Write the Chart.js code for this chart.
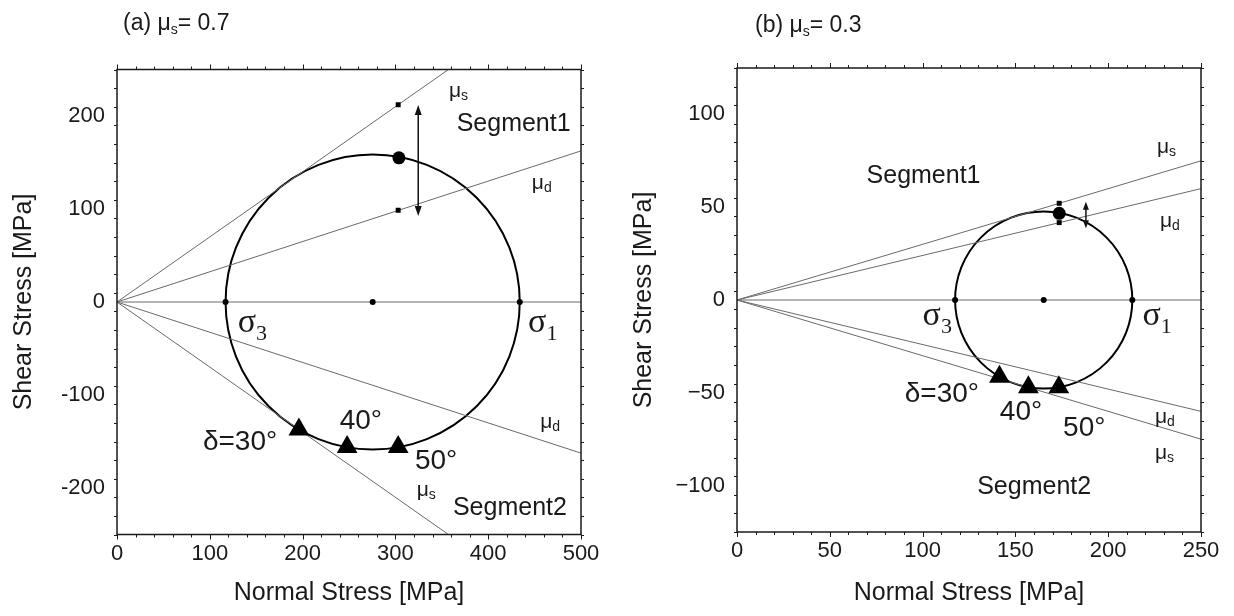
<!DOCTYPE html>
<html><head><meta charset="utf-8">
<script src="https://cdn.jsdelivr.net/npm/chart.js@4.4.1/dist/chart.umd.min.js"></script>
<style>
html,body{margin:0;padding:0;background:#fff;}
body{width:1234px;height:616px;overflow:hidden;position:relative;}
.box{position:absolute;top:0;width:617px;height:616px;}
</style></head><body>
<div class="box" style="left:0"><canvas id="ca" width="617" height="616"></canvas></div>
<div class="box" style="left:617px"><canvas id="cb" width="617" height="616"></canvas></div>
<script>
// ---------- Panel (a): mu_s = 0.7 ----------
const xRangeA = [0, 500];
const yRangeA = [-250, 250];
const xTicksA = [0, 100, 200, 300, 400, 500];
const xTickLabelsA = ['0', '100', '200', '300', '400', '500'];
const yTicksA = [-200, -100, 0, 100, 200];
const yTickLabelsA = ['-200', '-100', '0', '100', '200'];
const principalA = [117, 434];            // sigma3, sigma1
const frictionA = [0.7, 0.325];           // mu_s, mu_d
const triXA = [196, 248, 303];            // delta = 30, 40, 50
const triYA = [-137, -156, -156];
const stateXA = [303.8];
const stateYA = [155];
const squareXA = [303, 303];
const squareYA = [212, 98.6];
const arrowA = [324.6, 211.8, 92.5];      // x, y from, y to
const labelTextA = ['μs', 'Segment1', 'μd', 'σ3', 'σ1', 'δ=30°', '40°', '50°', 'μs', 'Segment2', 'μd'];
const labelXA = [357.7, 366, 447, 130, 443, 92.6, 240, 321, 323, 362, 456];
const labelYA = [226.9, 191, 128, -24.7, -24.7, -150.5, -128, -171, -202, -221.5, -129];

// ---------- Panel (b): mu_s = 0.3 ----------
const xRangeB = [0, 250];
const yRangeB = [-125, 125];
const xTicksB = [0, 50, 100, 150, 200, 250];
const xTickLabelsB = ['0', '50', '100', '150', '200', '250'];
const yTicksB = [-100, -50, 0, 50, 100];
const yTickLabelsB = ['\u2212100', '\u221250', '0', '50', '100'];
const principalB = [117.5, 213];
const frictionB = [0.3, 0.24];
const triXB = [141.4, 157, 173.4];
const triYB = [-41.3, -47, -47];
const stateXB = [173.6];
const stateYB = [46.7];
const squareXB = [173.6, 173.6];
const squareYB = [52.1, 41.7];
const arrowB = [188, 53, 38.6];
const labelTextB = ['Segment1', 'μs', 'μd', 'σ3', 'σ1', 'δ=30°', '40°', '50°', 'μd', 'μs', 'Segment2'];
const labelXB = [69.8, 226.3, 227.9, 100, 218.5, 90.4, 141.6, 175.7, 225.2, 225.2, 129.4];
const labelYB = [66.5, 82.5, 42.6, -9.7, -9.7, -50.7, -60.6, -69, -63, -82.5, -100.8];

const SANS = '"Liberation Sans", Arial, Helvetica, sans-serif';
const SERIF = '"Liberation Serif", "Times New Roman", serif';

function labelParts(t) {
  if (t[0] === 'μ') return [{t: 'μ', f: '21px ' + SANS, dy: 0}, {t: t.slice(1), f: '14px ' + SANS, dy: 5}];
  if (t[0] === 'σ') return [{t: 'σ', f: '34px ' + SERIF, dy: -2}, {t: t.slice(1), f: '22px ' + SERIF, dy: 9}];
  if (t.startsWith('Segment')) return [{t: t, f: '25px ' + SANS, dy: 0}];
  return [{t: t, f: '28px ' + SANS, dy: 0}];
}
function drawParts(ctx, x, y, parts, color) {
  ctx.fillStyle = color;
  ctx.textBaseline = 'middle';
  ctx.textAlign = 'left';
  let cx = x;
  for (const p of parts) {
    ctx.font = p.f;
    ctx.fillText(p.t, cx, y + p.dy);
    cx += ctx.measureText(p.t).width;
  }
}

function makeChart(id, P) {
  const xmax = P.xRange[1];
  const [s3, s1] = P.principal;
  const centre = (s3 + s1) / 2;
  const lineDs = (pts) => ({data: pts, showLine: true, borderColor: '#6a6a6a', borderWidth: 1, pointRadius: 0, clip: 0, order: 5});
  const datasets = [
    lineDs([{x: 0, y: 0}, {x: xmax, y: 0}]),
    lineDs([{x: 0, y: 0}, {x: xmax, y: P.friction[0] * xmax}]),
    lineDs([{x: 0, y: 0}, {x: xmax, y: P.friction[1] * xmax}]),
    lineDs([{x: 0, y: 0}, {x: xmax, y: -P.friction[0] * xmax}]),
    lineDs([{x: 0, y: 0}, {x: xmax, y: -P.friction[1] * xmax}]),
    {data: [{x: s3, y: 0}, {x: s1, y: 0}, {x: centre, y: 0}], pointRadius: 3, pointBackgroundColor: '#000', pointBorderWidth: 0, order: 1},
    {data: P.squareX.map((v, i) => ({x: v, y: P.squareY[i]})), pointStyle: 'rect', pointRadius: 3.5, pointBackgroundColor: '#000', pointBorderWidth: 0, order: 1},
    {data: P.stateX.map((v, i) => ({x: v, y: P.stateY[i]})), pointRadius: 6.5, pointBackgroundColor: '#000', pointBorderWidth: 0, order: 1},
    {data: P.triX.map((v, i) => ({x: v, y: P.triY[i]})), pointStyle: 'triangle', pointRadius: 12, pointBackgroundColor: '#000', pointBorderWidth: 0, order: 1}
  ];

  const deco = {
    id: 'deco',
    beforeDatasetsDraw(chart) {
      const {ctx, scales: {x, y}} = chart;
      ctx.save();
      ctx.strokeStyle = '#000';
      ctx.lineWidth = 2;
      const cx = x.getPixelForValue(centre), cy = y.getPixelForValue(0);
      const rx = x.getPixelForValue(s1) - cx;
      const ry = cy - y.getPixelForValue((s1 - s3) / 2);
      ctx.beginPath();
      ctx.ellipse(cx, cy, rx, ry, 0, 0, Math.PI * 2);
      ctx.stroke();
      ctx.restore();
    },
    afterDatasetsDraw(chart) {
      const {ctx, scales: {x, y}} = chart;
      ctx.save();
      const ax = x.getPixelForValue(P.arrow[0]);
      const a1 = y.getPixelForValue(P.arrow[1]);
      const a2 = y.getPixelForValue(P.arrow[2]);
      ctx.strokeStyle = '#111'; ctx.fillStyle = '#111'; ctx.lineWidth = 1.5;
      const hl = P.headLen, hw = P.headW;
      ctx.beginPath(); ctx.moveTo(ax, a1 + hl * 0.6); ctx.lineTo(ax, a2 - hl * 0.6); ctx.stroke();
      ctx.beginPath(); ctx.moveTo(ax, a1); ctx.lineTo(ax - hw, a1 + hl); ctx.lineTo(ax + hw, a1 + hl); ctx.closePath(); ctx.fill();
      ctx.beginPath(); ctx.moveTo(ax, a2); ctx.lineTo(ax - hw, a2 - hl); ctx.lineTo(ax + hw, a2 - hl); ctx.closePath(); ctx.fill();
      P.labelText.forEach((t, i) => {
        drawParts(ctx, x.getPixelForValue(P.labelX[i]), y.getPixelForValue(P.labelY[i]), labelParts(t), '#1a1a1a');
      });
      ctx.restore();
    },
    afterDraw(chart) {
      const {ctx, chartArea: {left, right, top, bottom}, scales: {x, y}} = chart;
      ctx.save();
      ctx.strokeStyle = '#1a1a1a';
      ctx.lineWidth = 1.5;
      ctx.strokeRect(left, top, right - left, bottom - top);
      ctx.lineWidth = 1;
      const seg = (x1, y1, x2, y2) => { ctx.beginPath(); ctx.moveTo(x1, y1); ctx.lineTo(x2, y2); ctx.stroke(); };
      const isMajor = (v, st) => Math.abs(v / st - Math.round(v / st)) < 1e-6;
      for (let v = x.min; v <= x.max + 1e-9; v += P.minorX) {
        const px = Math.round(x.getPixelForValue(v)) + 0.5;
        const L = isMajor(v, P.majorX) ? 5 : 3;
        seg(px, bottom, px, bottom + L);
        seg(px, top, px, top - L);
      }
      for (let v = y.min; v <= y.max + 1e-9; v += P.minorY) {
        const py = Math.round(y.getPixelForValue(v)) + 0.5;
        const L = isMajor(v, P.majorY) ? 5 : 3;
        seg(left, py, left - L, py);
        seg(right, py, right + L, py);
      }
      drawParts(ctx, P.titlePos[0], P.titlePos[1], [
        {t: P.titlePre, f: '23px ' + SANS, dy: 0},
        {t: 's', f: '14px ' + SANS, dy: 6},
        {t: P.titlePost, f: '23px ' + SANS, dy: 0}
      ], '#1a1a1a');
      ctx.restore();
    }
  };

  const axisFont = {family: SANS, size: 22};
  const titleFont = {family: SANS, size: 25};
  return new Chart(document.getElementById(id), {
    type: 'scatter',
    data: {datasets},
    plugins: [deco],
    options: {
      responsive: false,
      animation: false,
      events: [],
      layout: {padding: {top: P.padTop, right: P.padRight, left: 0, bottom: 0}},
      plugins: {legend: {display: false}, tooltip: {enabled: false}},
      scales: {
        x: {
          type: 'linear', position: 'bottom', min: P.xRange[0], max: P.xRange[1],
          afterFit: s => { s.height = P.xAxisH; },
          afterBuildTicks: s => { s.ticks = P.xTicks.map(v => ({value: v})); },
          grid: {display: false, drawTicks: false}, border: {display: false},
          ticks: {padding: 6, color: '#1a1a1a', font: axisFont, maxRotation: 0, autoSkip: false,
                  callback: (v, i) => P.xTickLabels[i]},
          title: {display: true, text: 'Normal Stress [MPa]', color: '#1a1a1a', font: titleFont, padding: {top: 0, bottom: 8}}
        },
        y: {
          type: 'linear', position: 'left', min: P.yRange[0], max: P.yRange[1],
          afterFit: s => { s.width = P.yAxisW; },
          afterBuildTicks: s => { s.ticks = P.yTicks.map(v => ({value: v})); },
          grid: {display: false, drawTicks: false}, border: {display: false},
          ticks: {padding: 12, color: '#1a1a1a', font: axisFont, autoSkip: false,
                  callback: (v, i) => P.yTickLabels[i]},
          title: {display: true, text: 'Shear Stress [MPa]', color: '#1a1a1a', font: titleFont, padding: {top: P.yTitlePad, bottom: 0}}
        }
      }
    }
  });
}

makeChart('ca', {
  xRange: xRangeA, yRange: yRangeA, xTicks: xTicksA, xTickLabels: xTickLabelsA,
  yTicks: yTicksA, yTickLabels: yTickLabelsA, principal: principalA, friction: frictionA,
  triX: triXA, triY: triYA, stateX: stateXA, stateY: stateYA, squareX: squareXA, squareY: squareYA,
  arrow: arrowA, labelText: labelTextA, labelX: labelXA, labelY: labelYA,
  minorX: 20, majorX: 100, minorY: 20, majorY: 100,
  padTop: 69.5, padRight: 36, xAxisH: 81.5, yAxisW: 117, yTitlePad: 9,
  headLen: 10, headW: 3.5,
  titlePre: '(a) μ', titlePost: '= 0.7', titlePos: [123, 24]
});
makeChart('cb', {
  xRange: xRangeB, yRange: yRangeB, xTicks: xTicksB, xTickLabels: xTickLabelsB,
  yTicks: yTicksB, yTickLabels: yTickLabelsB, principal: principalB, friction: frictionB,
  triX: triXB, triY: triYB, stateX: stateXB, stateY: stateYB, squareX: squareXB, squareY: squareYB,
  arrow: arrowB, labelText: labelTextB, labelX: labelXB, labelY: labelYB,
  minorX: 10, majorX: 50, minorY: 10, majorY: 50,
  padTop: 68, padRight: 33, xAxisH: 84, yAxisW: 120, yTitlePad: 12,
  headLen: 8, headW: 3,
  titlePre: '(b) μ', titlePost: '= 0.3', titlePos: [138, 26]
});
</script>
</body></html>
